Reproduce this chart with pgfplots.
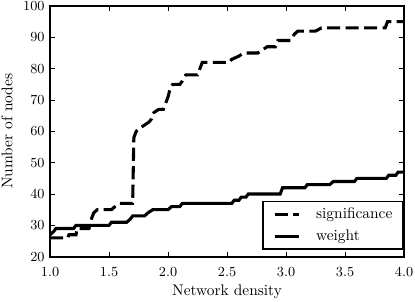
\documentclass[border=0pt]{standalone}
\usepackage{pgfplots}
\pgfplotsset{compat=1.18}
\begin{document}
\begin{tikzpicture}
\begin{axis}[
  scale only axis,
  width=229.9pt, height=162.8pt,
  xmin=1, xmax=4, ymin=20, ymax=100,
  xtick={1,1.5,...,4}, ytick={20,30,...,100},
  tick label style={font=\fontsize{9.3}{11}\selectfont},
  xticklabel style={yshift=-3.3pt, /pgf/number format/.cd,fixed,fixed zerofill,precision=1},
  tick align=inside, tick pos=both,
  major tick length=3.3pt,
  every tick/.style={black, line width=0.6pt},
  axis line style={line width=1.2pt},
  xlabel={Network density}, ylabel={Number of nodes},
  xlabel style={at={(axis description cs:0.5,0)}, anchor=base, yshift=-25.5pt},
  legend style={at={(1,0)}, anchor=south east, xshift=-0.6pt, yshift=4.35pt,
    draw=black, line width=1pt, font=\fontsize{10}{12}\selectfont,
    inner xsep=6.5pt, inner ysep=3.9pt, row sep=5.3pt, column sep=10.4pt,
    nodes={inner sep=0pt, text height=7pt, text depth=2pt}},
  legend cell align=left,
  legend image code/.code={\draw[#1] (0pt,0pt) -- (15.6pt,0pt);},
]
\addplot[black, line width=2pt, dash pattern=on 8.5pt off 3.5pt] coordinates {
(1.00,26) (1.15,26) (1.16,27) (1.22,27) (1.23,29) (1.33,29) (1.35,32) (1.37,34) (1.40,35) (1.52,35) (1.55,36) (1.58,37) (1.70,37) (1.71,58) (1.73,60) (1.76,61) (1.80,62) (1.84,63) (1.86,64) (1.88,66) (1.92,67) (1.96,67) (1.98,69) (2.00,71) (2.02,74) (2.04,75) (2.10,75) (2.12,76) (2.15,78) (2.25,78) (2.27,80) (2.29,82) (2.52,82) (2.54,83) (2.60,84) (2.64,85) (2.76,85) (2.80,86) (2.84,87) (2.91,87) (2.93,89) (3.04,89) (3.07,91) (3.10,92) (3.25,92) (3.30,93) (3.84,93) (3.86,95) (4.00,95)
};
\addlegendentry{significance}
\addplot[black, line width=2pt] coordinates {
(1.00,27) (1.03,28) (1.05,29) (1.20,29) (1.22,30) (1.50,30) (1.52,31) (1.65,31) (1.68,32) (1.70,33) (1.80,33) (1.83,34) (1.87,35) (2.00,35) (2.03,36) (2.10,36) (2.12,37) (2.54,37) (2.56,38) (2.60,38) (2.62,39) (2.66,39) (2.68,40) (2.95,40) (2.97,42) (3.16,42) (3.18,43) (3.37,43) (3.40,44) (3.58,44) (3.60,45) (3.85,45) (3.87,46) (3.93,46) (3.95,47) (4.00,47)
};
\addlegendentry{weight}
\coordinate (bl) at (rel axis cs:0,0);
\coordinate (tr) at (rel axis cs:1,1);
\end{axis}
\pgfresetboundingbox
\path[use as bounding box] ([xshift=-32.5pt,yshift=-29.4pt]bl) rectangle ([xshift=7.1pt,yshift=3.9pt]tr);
\end{tikzpicture}
\end{document}
